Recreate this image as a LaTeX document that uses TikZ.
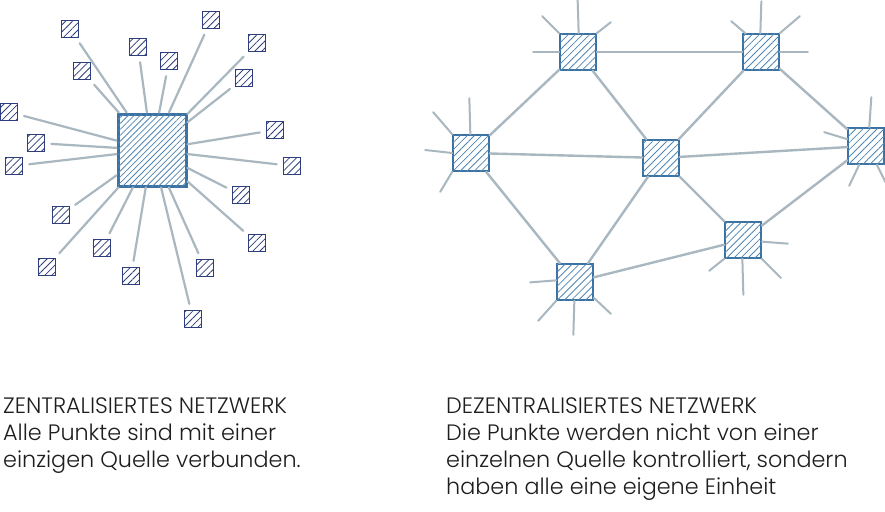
\documentclass[tikz,border=0pt]{standalone}
\usepackage{fontspec}
\setmainfont{Poppins}[UprightFont={* Light}]
\usetikzlibrary{patterns.meta}
\definecolor{navy}{HTML}{2E3D7C}
\definecolor{steel}{HTML}{3C72A2}
\definecolor{hatchc}{HTML}{4F86B5}
\definecolor{wire}{HTML}{A9B7C0}
\definecolor{txt}{HTML}{1E1E1E}
\tikzset{
  smallsq/.style={draw=navy, line width=1.6pt, minimum size=17pt, inner sep=0pt,
    fill=white, postaction={pattern={Lines[angle=45,distance=5pt,line width=0.8pt]}, pattern color=navy}},
  hubsq/.style={draw=steel, line width=3pt, minimum width=68pt, minimum height=72pt, inner sep=0pt,
    fill=white, postaction={pattern={Lines[angle=45,distance=4.2pt,line width=0.8pt]}, pattern color=hatchc}},
  peersq/.style={draw=steel, line width=1.6pt, minimum size=36pt, inner sep=0pt,
    fill=white, postaction={pattern={Lines[angle=45,distance=5pt,line width=0.8pt]}, pattern color=hatchc}},
  spoke/.style={draw=wire, line width=2pt, line cap=round},
  link/.style={draw=wire, line width=2.4pt, line cap=round},
  ray/.style={draw=wire, line width=2.2pt, line cap=round, shorten >=6pt},
  label/.style={anchor=base west, inner sep=0pt, text=txt, font=\fontsize{22.3}{27}\selectfont},
}
\begin{document}
\begin{tikzpicture}[x=1pt,y=-1pt]
\fill[white] (0,0) rectangle (885,511);
\useasboundingbox (0,0) rectangle (885,511);

% ---------- centralised network ----------
\node[hubsq] (hub) at (152,150) {};
\foreach \n/\x/\y in {1/70/29, 2/211/20, 3/257/43, 4/138/47, 5/169/61, 6/82/71, 7/244/78,
  8/9/112, 9/275/130, 10/36/143, 11/14/166, 12/292/166, 13/241/195, 14/61/215,
  15/257/243, 16/102/248, 17/47/267, 18/205/268, 19/131/276, 20/193/319}{
  \node[smallsq] (s\n) at (\x,\y) {};
  \draw[ray] (hub) -- (s\n);
}

% ---------- decentralised network ----------
\node[peersq] (A) at (578,52) {};
\node[peersq] (B) at (761,52) {};
\node[peersq] (C) at (471,153) {};
\node[peersq] (D) at (661,158) {};
\node[peersq] (E) at (866,146) {};
\node[peersq] (F) at (743,240) {};
\node[peersq] (G) at (575,282) {};

\foreach \a/\b in {A/B, A/C, A/D, B/D, B/E, C/D, D/E, C/G, D/G, D/F, F/E, G/F}{
  \draw[link] (\a) -- (\b);
}

% short spokes
\draw[spoke] (A.88) -- ++(-1,-33);
\draw[spoke] (A.135) -- ++(-17,-17);
\draw[spoke] (A.45) -- ++(14,-11);
\draw[spoke] (A.180) -- ++(-26,0);

\draw[spoke] (B.92) -- ++(1,-32);
\draw[spoke] (B.130) -- ++(-14,-12);
\draw[spoke] (B.45) -- ++(20,-17);
\draw[spoke] (B.0) -- ++(28,0);

\draw[spoke] (C.92) -- ++(-1,-36);
\draw[spoke] (C.135) -- ++(-19,-22);
\draw[spoke] (C.180) -- ++(-27,-3);
\draw[spoke] (C.225) -- ++(-12,20);

\draw[spoke] (E.80) -- ++(2,-30);
\draw[spoke] (E.160) -- ++(-23,-7);
\draw[spoke] (E.250) -- ++(-10,21);
\draw[spoke] (E.300) -- ++(10,20);

\draw[spoke] (F.-5) -- ++(26,2);
\draw[spoke] (F.225) -- ++(-15,12);
\draw[spoke] (F.268) -- ++(1,36);
\draw[spoke] (F.-45) -- ++(19,19);

\draw[spoke] (G.175) -- ++(-26,2);
\draw[spoke] (G.225) -- ++(-18,20);
\draw[spoke] (G.268) -- ++(-1,34);
\draw[spoke] (G.-40) -- ++(17,16);

% ---------- texts ----------
\node[label] (t1) at (3,413) {ZENTRALISIERTES NETZWERK};
\node[label] (t2) at (3,440) {Alle Punkte sind mit einer};
\node[label] (t3) at (3,467) {einzigen Quelle verbunden.};

\node[label] (u1) at (446,413) {DEZENTRALISIERTES NETZWERK};
\node[label] (u2) at (446,440) {Die Punkte werden nicht von einer};
\node[label] (u3) at (446,467) {einzelnen Quelle kontrolliert, sondern};
\node[label] (u4) at (446,494) {haben alle eine eigene Einheit};
\end{tikzpicture}
\end{document}
